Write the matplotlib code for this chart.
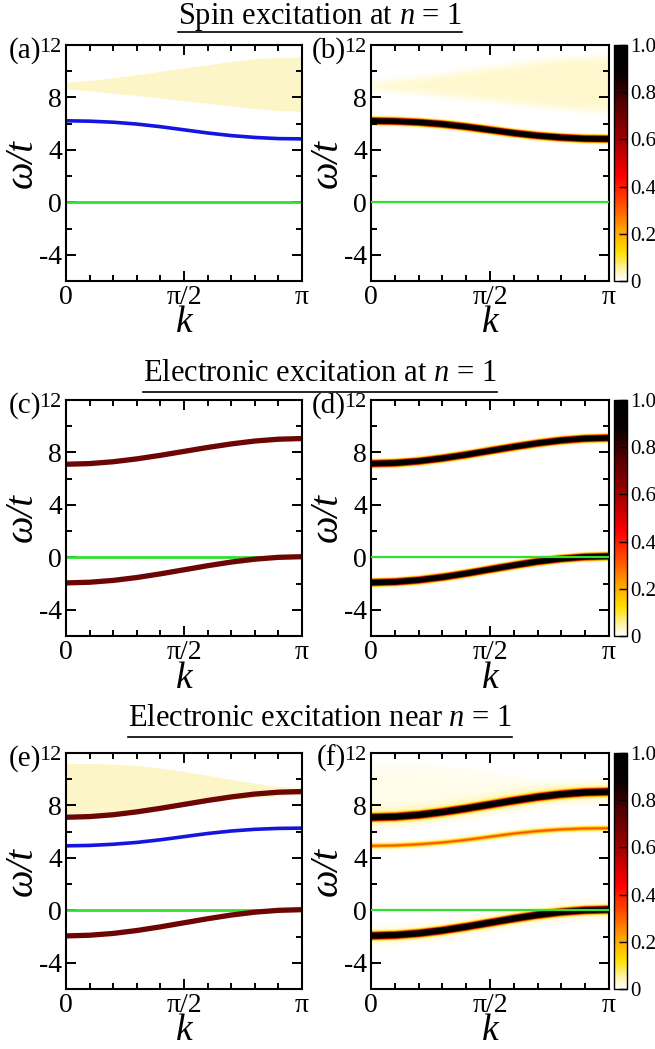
import numpy as np
import matplotlib
matplotlib.use('Agg')
import matplotlib.pyplot as plt
from matplotlib.colors import LinearSegmentedColormap
from matplotlib.lines import Line2D
from matplotlib.ticker import MultipleLocator, FixedLocator

plt.rcParams['font.family'] = ['Liberation Serif', 'DejaVu Serif']
plt.rcParams['mathtext.fontset'] = 'custom'
plt.rcParams['mathtext.rm'] = 'Liberation Serif'
plt.rcParams['mathtext.it'] = 'Liberation Serif:italic'
plt.rcParams['axes.unicode_minus'] = False

# ---------------- data ----------------
k_frac = [0.0, 0.1, 0.2, 0.3, 0.4, 0.5, 0.6, 0.7, 0.8, 0.9, 1.0]   # k in units of pi

spin_mode    = [6.22, 6.19, 6.11, 5.97, 5.77, 5.53, 5.29, 5.09, 4.95, 4.86, 4.84]
spin_band_lo = [8.65, 8.50, 8.33, 8.14, 7.95, 7.75, 7.55, 7.35, 7.15, 7.00, 6.95]
spin_band_hi = [9.15, 9.30, 9.50, 9.75, 10.00, 10.25, 10.50, 10.75, 10.95, 11.05, 11.10]

elec_upper = [7.10, 7.15, 7.29, 7.51, 7.78, 8.08, 8.38, 8.65, 8.87, 9.01, 9.06]
elec_lower = [-1.95, -1.90, -1.76, -1.54, -1.26, -0.95, -0.64, -0.36, -0.14, 0.00, 0.05]
zero_mode  = [0.0] * 11

near_mid     = [4.92, 4.95, 5.04, 5.18, 5.38, 5.62, 5.86, 6.05, 6.18, 6.25, 6.27]
near_band_lo = [7.35, 7.40, 7.50, 7.65, 7.85, 8.05, 8.25, 8.45, 8.60, 8.72, 8.78]
near_band_hi = [11.20, 11.20, 11.15, 11.05, 10.85, 10.60, 10.30, 10.00, 9.70, 9.45, 9.30]

titles = ['Spin excitation at $n$ = 1',
          'Electronic excitation at $n$ = 1',
          'Electronic excitation near $n$ = 1']
panel_labels = ['(a)', '(b)', '(c)', '(d)', '(e)', '(f)']
x_ticks_frac = [0.0, 0.5, 1.0]
x_ticklabels = ['0', 'π/2', 'π']
y_ticks = [-4, 0, 4, 8, 12]
y_ticklabels = ['-4', '0', '4', '8', '12']
cbar_ticks = [0, 0.2, 0.4, 0.6, 0.8, 1.0]
cbar_ticklabels = ['0', '0.2', '0.4', '0.6', '0.8', '1.0']

# ---------------- styling ----------------
BAND_COL = '#fcf5c8'
BLUE = '#1515e0'
MAROON = '#6e0505'
GREEN = '#30e030'

cmap = LinearSegmentedColormap.from_list('spec', [
    (0.00, '#ffffff'), (0.04, '#fff6b8'), (0.12, '#ffe000'), (0.22, '#ffa000'),
    (0.32, '#ff5000'), (0.44, '#ff0000'), (0.60, '#a00000'), (0.76, '#500000'),
    (0.88, '#080000'), (1.00, '#000000')])

W, H = 655, 1049
fig = plt.figure(figsize=(W / 100, H / 100), dpi=100)

left_x = (66, 302)
right_x = (371, 609)
cbar_x = (614, 627)
rows = [(45, 281), (400, 636), (753, 989)]
title_base = [24, 381, 726]
underline_y = [32, 392, 737]

k = np.array(k_frac) * np.pi


def make_ax(xr, yr):
    return fig.add_axes([xr[0] / W, 1 - yr[1] / H, (xr[1] - xr[0]) / W, (yr[1] - yr[0]) / H])


def style(ax):
    ax.set_xlim(0, np.pi)
    ax.set_ylim(-6, 12)
    ax.set_xticks(np.array(x_ticks_frac) * np.pi, labels=x_ticklabels)
    ax.xaxis.set_minor_locator(FixedLocator(np.arange(0, 11) * np.pi / 10))
    ax.set_yticks(y_ticks, labels=y_ticklabels)
    ax.yaxis.set_minor_locator(MultipleLocator(2))
    ax.tick_params(which='both', direction='in', top=True, right=True, width=1.4,
                   labelsize=20)
    ax.tick_params(which='major', length=7, pad=3)
    ax.tick_params(which='minor', length=4)
    for lab in ax.get_yticklabels():
        if lab.get_text() == '12':
            lab.set_fontsize(16)
    for s in ax.spines.values():
        s.set_linewidth(1.5)
    ax.set_xlabel('k', fontsize=27, fontstyle='italic', labelpad=-3)
    ax.set_ylabel('ω/t', fontsize=28, fontstyle='italic', labelpad=-1)


kk = np.linspace(0, np.pi, 180)
ww = np.linspace(-6, 12, 420)
KK, WW = np.meshgrid(kk, ww)


def mode(vals, amp, sig):
    c = np.interp(kk, k, vals)
    return amp * np.exp(-(WW - c) ** 2 / (2 * sig ** 2))


def band(lo, hi, dens, soft):
    lo_ = np.interp(kk, k, lo)
    hi_ = np.interp(kk, k, hi)
    return dens * 0.25 * (1 + np.tanh((WW - lo_) / soft)) * (1 + np.tanh((hi_ - WW) / soft))


def heat(ax, Z):
    im = ax.imshow(Z, origin='lower', extent=[0, np.pi, -6, 12], aspect='auto',
                   cmap=cmap, vmin=0, vmax=1, interpolation='bilinear')
    ax.plot(k, zero_mode, color=GREEN, lw=1.6, zorder=3)
    return im


def cbar(im, yr):
    cax = make_ax(cbar_x, yr)
    cb = fig.colorbar(im, cax=cax, ticks=cbar_ticks)
    cb.ax.set_yticklabels(cbar_ticklabels)
    cb.ax.tick_params(direction='in', length=6, width=1, labelsize=15, pad=2)
    cb.outline.set_linewidth(1.0)


# Row 1 -------------------------------------------------------------
ax = make_ax(left_x, rows[0])
ax.fill_between(k, spin_band_lo, spin_band_hi, color=BAND_COL, lw=0)
ax.plot(k, spin_mode, color=BLUE, lw=2.6)
ax.plot(k, zero_mode, color=GREEN, lw=2.0)
style(ax)

ax = make_ax(right_x, rows[0])
Z = mode(spin_mode, 3.0, 0.125) + band(spin_band_lo, spin_band_hi, 0.03, 0.35)
im = heat(ax, Z)
style(ax)
cbar(im, rows[0])

# Row 2 -------------------------------------------------------------
ax = make_ax(left_x, rows[1])
ax.plot(k, zero_mode, color=GREEN, lw=2.0)
ax.plot(k, elec_upper, color=MAROON, lw=3.8)
ax.plot(k, elec_lower, color=MAROON, lw=3.8)
style(ax)

ax = make_ax(right_x, rows[1])
Z = mode(elec_upper, 3.0, 0.125) + mode(elec_lower, 3.0, 0.125)
im = heat(ax, Z)
style(ax)
cbar(im, rows[1])

# Row 3 -------------------------------------------------------------
ax = make_ax(left_x, rows[2])
ax.fill_between(k, near_band_lo, near_band_hi, color=BAND_COL, lw=0)
ax.plot(k, near_mid, color=BLUE, lw=2.6)
ax.plot(k, zero_mode, color=GREEN, lw=2.0)
ax.plot(k, elec_upper, color=MAROON, lw=3.8)
ax.plot(k, elec_lower, color=MAROON, lw=3.8)
style(ax)

ax = make_ax(right_x, rows[2])
Z = (mode(elec_upper, 3.0, 0.135) + mode(elec_upper, 0.05, 0.45)
     + mode(elec_lower, 3.0, 0.135) + mode(elec_lower, 0.03, 0.45)
     + mode(near_mid, 0.3, 0.09) + mode(near_mid, 0.04, 0.2)
     + band(near_band_lo, near_band_hi, 0.012, 0.4))
im = heat(ax, Z)
style(ax)
cbar(im, rows[2])

# Panel labels ------------------------------------------------------
for i, lab in enumerate(panel_labels):
    row = i // 2
    xpx = (left_x[0] if i % 2 == 0 else right_x[0]) - 25
    fig.text(xpx / W, 1 - (rows[row][0] + 13) / H, lab, fontsize=21,
             ha='right', va='baseline')

# Titles with underline ---------------------------------------------
fig.canvas.draw()
renderer = fig.canvas.get_renderer()
for t, yb, yu in zip(titles, title_base, underline_y):
    txt = fig.text(320 / W, 1 - yb / H, t, fontsize=22, ha='center', va='baseline')
    bb = txt.get_window_extent(renderer=renderer)
    x0, x1 = bb.x0 / W, bb.x1 / W
    fig.add_artist(Line2D([x0, x1], [1 - yu / H, 1 - yu / H], color='black', lw=1.2,
                          transform=fig.transFigure))

fig.savefig('out.png', dpi=100)
